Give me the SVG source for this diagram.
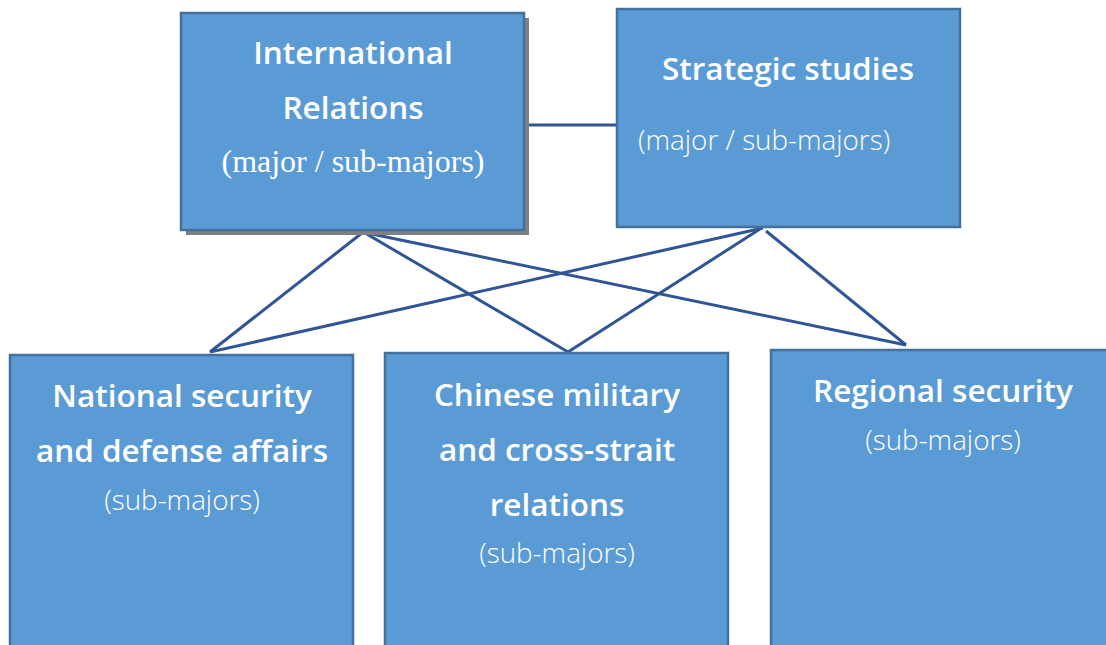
<svg xmlns="http://www.w3.org/2000/svg" width="1106" height="645" viewBox="0 0 1106 645">
<style>
.box{fill:#5B9BD5;stroke:#41719C;stroke-width:2.5}
.t{font-family:"Open Sans","Noto Sans",sans-serif;font-weight:600;font-size:31.5px;fill:#fff;text-anchor:middle}
.s{font-family:"Open Sans","Noto Sans",sans-serif;font-weight:300;font-size:27.8px;fill:#fff;text-anchor:middle}
.sr{font-family:"Liberation Serif","Times New Roman",serif;font-size:32px;fill:#fff;text-anchor:middle}
.c{stroke:#2F5597;stroke-width:3;fill:none}
</style>
<rect width="1106" height="645" fill="#fff"/>
<g id="connectors">
<line class="c" x1="524" y1="125" x2="617" y2="125"/>
<line class="c" x1="362" y1="233" x2="210" y2="352"/>
<line class="c" x1="365" y1="233" x2="568" y2="352"/>
<line class="c" x1="367" y1="233" x2="906" y2="345"/>
<line class="c" x1="763" y1="228" x2="210" y2="352"/>
<line class="c" x1="760" y1="229" x2="568" y2="352"/>
<line class="c" x1="766" y1="231" x2="906" y2="345"/>
</g>
<g id="international-relations">
<rect x="186" y="18" width="343" height="217" fill="#808080"/>
<rect class="box" x="181" y="13" width="343" height="217"/>
<text class="t" x="353" y="64">International</text>
<text class="t" x="353" y="119">Relations</text>
<text class="sr" x="353" y="172">(major / sub-majors)</text>
</g>
<g id="strategic-studies">
<rect class="box" x="617" y="9" width="343" height="218"/>
<text class="t" x="788" y="80">Strategic studies</text>
<text class="s" x="638" y="150" style="text-anchor:start">(major / sub-majors)</text>
</g>
<g id="national-security">
<rect class="box" x="10" y="355" width="343" height="300"/>
<text class="t" x="182" y="407">National security</text>
<text class="t" x="182" y="462">and defense affairs</text>
<text class="s" x="182" y="510">(sub-majors)</text>
</g>
<g id="chinese-military">
<rect class="box" x="385" y="353" width="343" height="300"/>
<text class="t" x="557" y="406">Chinese military</text>
<text class="t" x="557" y="461">and cross-strait</text>
<text class="t" x="557" y="516">relations</text>
<text class="s" x="557" y="563">(sub-majors)</text>
</g>
<g id="regional-security">
<rect class="box" x="771" y="350" width="345" height="300"/>
<text class="t" x="943" y="402">Regional security</text>
<text class="s" x="943" y="450">(sub-majors)</text>
</g>
</svg>
